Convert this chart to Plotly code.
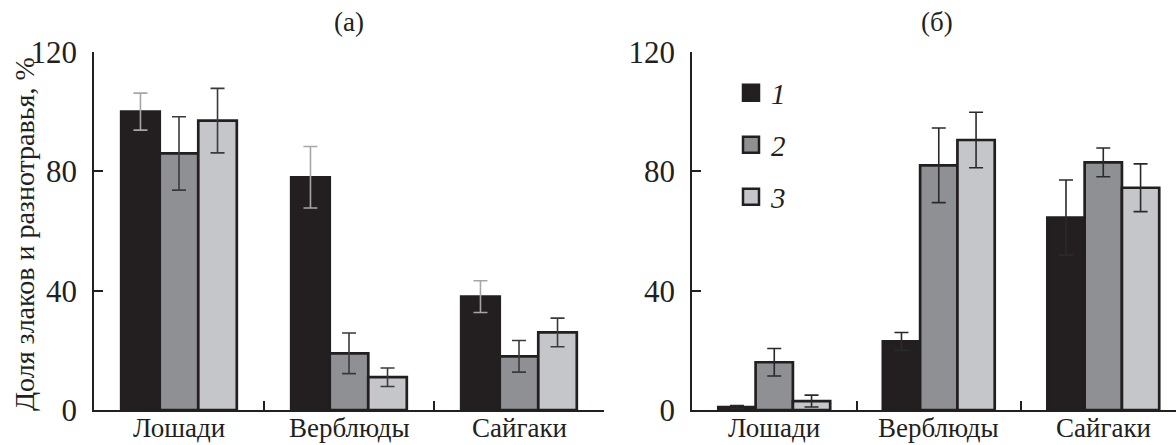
import plotly.graph_objects as go

categories = ["Лошади", "Верблюды", "Сайгаки"]
series_names = ["1", "2", "3"]

# Panel (а)
a_vals_1 = [100, 78, 38]
a_err_1 = [6.2, 10.3, 5.3]
a_vals_2 = [86, 19, 18]
a_err_2 = [12.3, 6.8, 5.3]
a_vals_3 = [97, 11, 26]
a_err_3 = [10.8, 3.1, 4.8]

# Panel (б)
b_vals_1 = [1, 23, 64.5]
b_err_1 = [0.5, 3, 12.6]
b_vals_2 = [16, 82, 83]
b_err_2 = [4.6, 12.5, 4.8]
b_vals_3 = [3, 90.5, 74.5]
b_err_3 = [2, 9.3, 8]

y_ticks = [0, 40, 80, 120]

FONT = "Liberation Serif, Times New Roman, serif"
INK = "#231f20"
fills = ["#231f20", "#8e9094", "#c4c6c9"]

W, H = 1176, 445
L_A, R_A = 94, 604
L_B = 692
TOP, BOT = 52, 410
PH = BOT - TOP

fig = go.Figure()

panel_a = [(a_vals_1, a_err_1), (a_vals_2, a_err_2), (a_vals_3, a_err_3)]
panel_b = [(b_vals_1, b_err_1), (b_vals_2, b_err_2), (b_vals_3, b_err_3)]

for i, (v, e) in enumerate(panel_a):
    fig.add_trace(go.Bar(
        x=categories, y=v, xaxis="x", yaxis="y", showlegend=False,
        marker=dict(color=fills[i], line=dict(color=INK, width=2.7)),
        error_y=dict(type="data", array=e, visible=True,
                     color="#a4a6a9" if i == 0 else "#3a3a3c", thickness=1.6, width=7),
    ))

for i, (v, e) in enumerate(panel_b):
    fig.add_trace(go.Bar(
        x=categories, y=v, xaxis="x2", yaxis="y2", showlegend=False,
        marker=dict(color=fills[i], line=dict(color=INK, width=2.7)),
        error_y=dict(type="data", array=e, visible=True,
                     color="#2a2a2c", thickness=1.6, width=7),
    ))

# legend entries
legend_names = ["legend", "legend2", "legend3"]
for i, name in enumerate(series_names):
    fig.add_trace(go.Scatter(
        x=[None], y=[None], xaxis="x2", yaxis="y2", mode="markers",
        name=f"<i>{name}</i>", legend=legend_names[i], showlegend=True,
        marker=dict(symbol="square", size=16, color=fills[i],
                    line=dict(color=INK, width=2.5)),
    ))

axis_common = dict(showline=True, linecolor=INK, linewidth=1.5, ticks="inside",
                   ticklen=9, tickwidth=1.5, tickcolor=INK, showgrid=False,
                   zeroline=False)

xa = dict(type="category", tickson="boundaries", showticklabels=False, **axis_common)
ya = dict(range=[0, 120], tickvals=y_ticks, ticklabelstandoff=9,
          tickfont=dict(size=31, family=FONT, color=INK), **axis_common)

legend_y_px = [93, 145, 197]
legend_layouts = {}
for i, ln in enumerate(legend_names):
    legend_layouts[ln] = dict(
        x=731 / W, xanchor="left", xref="paper",
        y=(BOT - legend_y_px[i]) / PH, yanchor="middle", yref="paper",
        font=dict(size=29, family=FONT, color=INK), bgcolor="rgba(0,0,0,0)",
        itemwidth=30,
    )

annotations = [
    dict(text="(а)", x=349 / W, y=(BOT - 22) / PH, xref="paper", yref="paper",
         showarrow=False, font=dict(size=27, family=FONT, color=INK),
         xanchor="center", yanchor="middle"),
    dict(text="(б)", x=937 / W, y=(BOT - 22) / PH, xref="paper", yref="paper",
         showarrow=False, font=dict(size=27, family=FONT, color=INK),
         xanchor="center", yanchor="middle"),
    dict(text="Доля злаков и разнотравья, %", x=24 / W, y=(BOT - 234) / PH,
         xref="paper", yref="paper", textangle=-90, showarrow=False,
         font=dict(size=28, family=FONT, color=INK),
         xanchor="center", yanchor="middle"),
]
# category labels under each panel, placed on the category axes
for xr in ["x", "x2"]:
    for c in categories:
        annotations.append(dict(
            text=c, x=c, xref=xr, y=(BOT - 428) / PH, yref="paper",
            showarrow=False, font=dict(size=27, family=FONT, color=INK),
            xanchor="center", yanchor="middle"))

fig.update_layout(
    width=W, height=H,
    margin=dict(l=0, r=0, t=TOP, b=H - BOT),
    paper_bgcolor="white", plot_bgcolor="white",
    barmode="group", bargap=0.32, bargroupgap=0,
    font=dict(family=FONT, color=INK),
    xaxis=dict(domain=[L_A / W, R_A / W], range=[-0.5, 2.5], anchor="y", **xa),
    yaxis=dict(domain=[0, 1], anchor="x", **ya),
    xaxis2=dict(domain=[L_B / W, 1.0], range=[-0.5, 2.442], anchor="y2", **xa),
    yaxis2=dict(domain=[0, 1], anchor="x2", **ya),
    annotations=annotations,
    **legend_layouts,
)

fig.write_html("out.html", config={"displayModeBar": False},
               post_script="document.body.style.margin='0';document.body.style.overflow='hidden';")
